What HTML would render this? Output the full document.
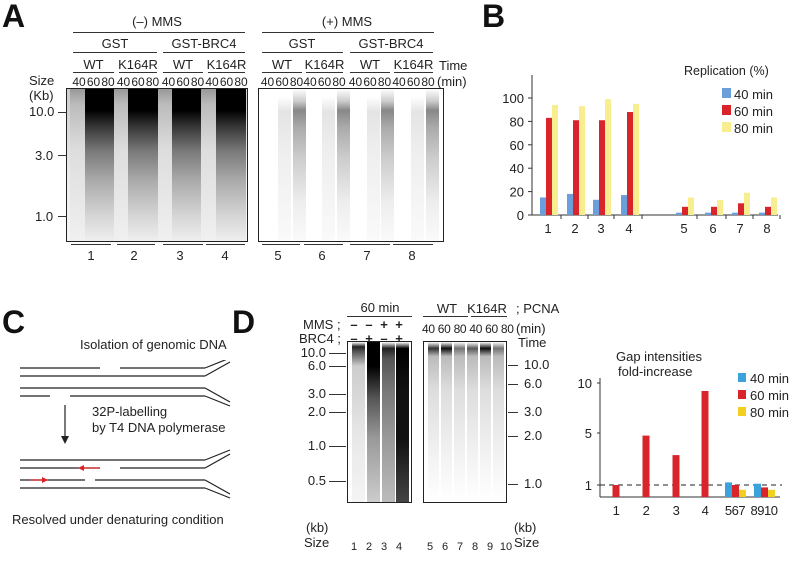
<!DOCTYPE html>
<html><head><meta charset="utf-8"><style>
body{margin:0;width:800px;height:565px;background:#fff;position:relative;overflow:hidden;font-family:"Liberation Sans",Arial,sans-serif;color:#222}
.a{position:absolute;white-space:nowrap}
.t{font-size:13px}
.big{font-size:32px;font-weight:bold;color:#111}
.hl{position:absolute;height:1px;background:#333}
.gel{position:absolute;border:1.5px solid #222;background:#fff;overflow:hidden}
.lane{position:absolute;top:0;bottom:0}
.c{text-align:center;transform:translateX(-50%)}
</style></head><body>
<div class="a big" style="left:2px;top:-2px">A</div>
<div class="a big" style="left:482px;top:-2px">B</div>
<div class="a big" style="left:2px;top:304px">C</div>
<div class="a big" style="left:232px;top:304px">D</div>

<div class="a t c" style="left:157px;top:14px">(–) MMS</div>
<div class="hl" style="left:73px;top:32px;width:172px"></div>
<div class="a t c" style="left:347px;top:14px">(+) MMS</div>
<div class="hl" style="left:262px;top:32px;width:172px"></div>
<div class="a t c" style="left:115px;top:36px">GST</div>
<div class="a t c" style="left:204px;top:36px">GST-BRC4</div>
<div class="a t c" style="left:302px;top:36px">GST</div>
<div class="a t c" style="left:391px;top:36px">GST-BRC4</div>
<div class="hl" style="left:73px;top:52px;width:84px"></div><div class="hl" style="left:163px;top:52px;width:82px"></div>
<div class="hl" style="left:262px;top:52px;width:81px"></div><div class="hl" style="left:350px;top:52px;width:83px"></div>
<div id="aRow"></div>
<div class="a t" style="left:29px;top:73px">Size</div>
<div class="a t" style="left:29px;top:88px">(Kb)</div>
<div class="a t" style="left:439px;top:58px">Time</div>
<div class="a t" style="left:437px;top:74px">(min)</div>
<div class="a t" style="left:29px;top:104px">10.0</div>
<div class="a t" style="left:35px;top:148px">3.0</div>
<div class="a t" style="left:35px;top:209px">1.0</div>
<div class="hl" style="left:58px;top:112px;width:8px"></div><div class="hl" style="left:58px;top:155px;width:8px"></div><div class="hl" style="left:58px;top:216px;width:8px"></div>
<div class="gel" id="gelA1" style="left:66px;top:88px;width:180px;height:152px;background:linear-gradient(#ccc,#eee 60%,#f6f6f6)"></div>
<div class="gel" id="gelA2" style="left:258px;top:88px;width:184px;height:152px"></div>
<div id="aNums"></div>

<svg id="chartB" class="a" style="left:480px;top:50px" width="320" height="190"></svg>

<div class="a t" style="left:80px;top:337px">Isolation of genomic DNA</div>
<svg class="a" style="left:0;top:360px" width="240" height="150">
<g stroke="#222" stroke-width="1.2" fill="none">
<line x1="20" y1="8" x2="100" y2="8"/><line x1="120" y1="8" x2="205" y2="8"/><path d="M205 8 L230 -2"/>
<line x1="20" y1="16" x2="205" y2="16"/><path d="M205 16 L230 2"/>
<line x1="20" y1="28" x2="205" y2="28"/><path d="M205 28 L230 42"/>
<line x1="20" y1="36" x2="50" y2="36"/><line x1="70" y1="36" x2="205" y2="36"/><path d="M205 36 L230 46"/>
<line x1="65" y1="45" x2="65" y2="80"/>
<line x1="20" y1="100" x2="205" y2="100"/><path d="M205 100 L230 90"/>
<line x1="20" y1="108" x2="100" y2="108"/><line x1="120" y1="108" x2="205" y2="108"/><path d="M205 108 L230 94"/>
<line x1="20" y1="120" x2="85" y2="120"/><line x1="95" y1="120" x2="205" y2="120"/><path d="M205 120 L230 134"/>
<line x1="20" y1="128" x2="205" y2="128"/><path d="M205 128 L230 138"/>
</g>
<path d="M61 76 L65 84 L69 76 Z" fill="#222"/>
<line x1="100" y1="108" x2="80" y2="108" stroke="#d22" stroke-width="1.3"/><path d="M78 108 L84 105 L84 111Z" fill="#d22"/>
<line x1="30" y1="120" x2="45" y2="120" stroke="#d22" stroke-width="1.3"/><path d="M48 120 L42 117 L42 123Z" fill="#d22"/>
</svg>
<div class="a t" style="left:92px;top:404px">32P-labelling</div>
<div class="a t" style="left:92px;top:420px">by T4 DNA polymerase</div>
<div class="a t" style="left:12px;top:512px">Resolved under denaturing condition</div>

<div class="a t c" style="left:380px;top:300px">60 min</div>
<div class="hl" style="left:347px;top:316px;width:65px"></div>
<div class="a t" style="left:303px;top:317px">MMS ;</div>
<div class="a t" style="left:299px;top:331px">BRC4 ;</div>
<div id="signs"></div>
<div class="a t c" style="left:447px;top:301px">WT</div>
<div class="a t c" style="left:487px;top:301px">K164R</div>
<div class="a t" style="left:516px;top:301px">; PCNA</div>
<div class="hl" style="left:423px;top:316px;width:45px"></div><div class="hl" style="left:471px;top:316px;width:36px"></div>
<div class="a" style="left:422px;top:322px;font-size:12px;letter-spacing:-0.3px">40 60 80 40 60 80</div>
<div class="a t" style="left:516px;top:321px">(min)</div>
<div class="a t" style="left:518px;top:335px">Time</div>
<div class="gel" id="gelD1" style="left:347px;top:341px;width:63px;height:160px"></div>
<div class="gel" id="gelD2" style="left:423px;top:341px;width:82px;height:160px"></div>
<div id="dTicks"></div>
<div class="a t" style="left:306px;top:520px">(kb)</div>
<div class="a t" style="left:304px;top:535px">Size</div>
<div class="a t" style="left:514px;top:520px">(kb)</div>
<div class="a t" style="left:514px;top:535px">Size</div>
<div id="dLanes"></div>

<div class="a t" style="left:616px;top:349px">Gap intensities</div>
<div class="a t" style="left:618px;top:364px">fold-increase</div>
<svg id="chartD" class="a" style="left:560px;top:370px" width="240" height="160"></svg>

<script>
const bCats = ['1','2','3','4','5','6','7','8'];
const b40 = [15,18,13,17,2,2,2,2];
const b60 = [83,81,81,88,7,7,10,7];
const b80 = [94,93,99,95,15,13,19,15];
const bTicks = [0,20,40,60,80,100];
const gCats = ['1','2','3','4','567','8910'];
const g40 = [null,null,null,null,1.2,1.1];
const g60 = [1.0,4.8,3.3,9.2,1.0,0.8];
const g80 = [null,null,null,null,0.6,0.6];
const gTicks = [1,5,10];

const NS='http://www.w3.org/2000/svg';
function mk(svg,tag,attrs,txt){const e=document.createElementNS(NS,tag);for(const k in attrs)e.setAttribute(k,attrs[k]);if(txt!=null)e.textContent=txt;svg.appendChild(e);return e;}

(function(){
  const s=document.getElementById('chartB');
  const x0=52,y0=165,yTop=25;
  const y=v=>y0-v*(117/100);
  const cx=[68,95,121,149,204,233,260,287];
  mk(s,'line',{x1:x0,y1:yTop,x2:x0,y2:y0,stroke:'#333'});
  mk(s,'line',{x1:x0,y1:y0,x2:298,y2:y0,stroke:'#333'});
  bTicks.forEach(t=>{mk(s,'line',{x1:x0-4,y1:y(t),x2:x0,y2:y(t),stroke:'#333'});
    const tx=mk(s,'text',{x:x0-8,y:y(t)+5,'text-anchor':'end','font-size':13,fill:'#222','font-family':'Liberation Sans'},t);
    });
  bCats.forEach((c,i)=>{
    const series=[[b40,'#6a9fdc'],[b60,'#d8242a'],[b80,'#f8ee90']];
    series.forEach(([arr,col],j)=>{
      const r=mk(s,'rect',{x:cx[i]-8+j*6,y:y(arr[i]),width:6,height:y0-y(arr[i]),fill:col});
      
      
    });
    mk(s,'line',{x1:cx[i]+13,y1:y0,x2:cx[i]+13,y2:y0+4,stroke:'#333'});
    const tx=mk(s,'text',{x:cx[i],y:y0+18,'text-anchor':'middle','font-size':13,fill:'#222','font-family':'Liberation Sans'},c);
    
  });
  const tt=mk(s,'text',{x:204,y:25,'font-size':12.5,fill:'#222','font-family':'Liberation Sans'},'Replication (%)');
  
  [['40 min','#6a9fdc'],['60 min','#d8242a'],['80 min','#f8ee90']].forEach(([l,c],i)=>{
    mk(s,'rect',{x:242,y:38+i*17,width:9,height:10,fill:c});
    const t=mk(s,'text',{x:254,y:49+i*17,'font-size':13,fill:'#222','font-family':'Liberation Sans'},l);
    
  });
})();

(function(){
  const s=document.getElementById('chartD');
  const x0=40,y0=127;
  const dom=[0,1,5,10],rng=[127,115,63,13];
  const y=v=>{for(let i=0;i<3;i++){if(v<=dom[i+1]||i==2){return rng[i]+(v-dom[i])/(dom[i+1]-dom[i])*(rng[i+1]-rng[i]);}}};
  mk(s,'line',{x1:x0,y1:8,x2:x0,y2:y0,stroke:'#333'});
  mk(s,'line',{x1:x0,y1:y0,x2:220,y2:y0,stroke:'#333'});
  gTicks.forEach(t=>{mk(s,'line',{x1:x0-3,y1:y(t),x2:x0,y2:y(t),stroke:'#333'});
    const tx=mk(s,'text',{x:x0-8,y:y(t)+5,'text-anchor':'end','font-size':13,fill:'#222','font-family':'Liberation Sans'},t);
    });
  mk(s,'line',{x1:x0,y1:y(1),x2:222,y2:y(1),stroke:'#222','stroke-dasharray':'5,4'});
  const cx=[56,86,116,145,175,204];
  gCats.forEach((c,i)=>{
    const ser=[[g40,'#3aa3dc'],[g60,'#d8242a'],[g80,'#f3cf22']];
    const multi=g40[i]!=null;
    ser.forEach(([arr,col],j)=>{
      if(arr[i]==null)return;
      const bx=multi?cx[i]-10+j*7:cx[i]-3.5;
      const r=mk(s,'rect',{x:bx,y:y(arr[i]),width:7,height:y0-y(arr[i]),fill:col});
      
      
    });
    const tx=mk(s,'text',{x:cx[i],y:y0+18,'text-anchor':'middle','font-size':13,fill:'#222','font-family':'Liberation Sans','letter-spacing':'-0.5'},c);
    
  });
  [['40 min','#3aa3dc'],['60 min','#d8242a'],['80 min','#f3cf22']].forEach(([l,c],i)=>{
    mk(s,'rect',{x:178,y:3+i*17,width:8,height:9,fill:c});
    const t=mk(s,'text',{x:190,y:13+i*17,'font-size':13,fill:'#222','font-family':'Liberation Sans'},l);
    
  });
})();

(function(){
  const row=document.getElementById('aRow');
  const groups=[[73,114,'WT'],[119,157,'K164R'],[163,203,'WT'],[208,245,'K164R'],[262,302,'WT'],[306,343,'K164R'],[350,390,'WT'],[394,433,'K164R']];
  groups.forEach(g=>{
    const d=document.createElement('div');d.className='a t c';d.style.left=((g[0]+g[1])/2)+'px';d.style.top='57px';d.textContent=g[2];
    
    
    row.appendChild(d);
    const l=document.createElement('div');l.className='hl';l.style.left=g[0]+'px';l.style.top='72px';l.style.width=(g[1]-g[0])+'px';row.appendChild(l);
    const mid=(g[0]+g[1])/2;
    ['40','60','80'].forEach((n,k)=>{
      const e=document.createElement('div');e.className='a c';e.style.left=(mid+(k-1)*14.5)+'px';e.style.top='75px';e.style.fontSize='12px';e.textContent=n;
      
      
      row.appendChild(e);
    });
  });
  const nums=document.getElementById('aNums');
  [[91,71,111],[134,117,155],[180,163,203],[225,206,245],[278,262,300],[322,304,343],[367,350,390],[412,393,433]].forEach((n,i)=>{
    const l=document.createElement('div');l.className='hl';l.style.left=n[1]+'px';l.style.top='244px';l.style.width=(n[2]-n[1])+'px';nums.appendChild(l);
    const d=document.createElement('div');d.className='a t c';d.style.left=n[0]+'px';d.style.top='248px';d.textContent=i+1;
    
    
    nums.appendChild(d);
  });
  function lanes(id,xs,w,fn){const g=document.getElementById(id);xs.forEach((x,i)=>{const d=document.createElement('div');d.className='lane';d.style.left=x+'px';d.style.width=w+'px';d.style.background=fn(i);g.appendChild(d);});}
  const a1=[];for(let i=0;i<12;i++)a1.push(3+i*14.6);
  lanes('gelA1',a1,15,i=>{const k=i%3;if(k==0)return 'linear-gradient(#999 0%,#bbb 10%,#ddd 40%,#f0f0f0 100%)';return 'linear-gradient(#000 0%,#000 14%,#333 24%,#777 40%,#aaa 60%,#d8d8d8 85%,#eee 100%)';});
  const a2=[];for(let i=0;i<12;i++)a2.push(4+i*14.8);
  lanes('gelA2',a2,13,i=>{const k=i%3;if(k==2)return 'linear-gradient(#fff 0%,#ccc 8%,#888 14%,#aaa 25%,#ccc 45%,#eee 75%,#fafafa 100%)';if(k==1)return 'linear-gradient(#fff 5%,#e4e4e4 15%,#eee 40%,#fafafa 100%)';return '#fff';});
  lanes('gelD1',[4,19,34,48],13,i=>['linear-gradient(#fff 0%,#222 3%,#555 6%,#ccc 15%,#e8e8e8 60%,#f4f4f4 100%)','linear-gradient(#000 0%,#000 15%,#555 35%,#999 60%,#ccc 100%)','linear-gradient(#fff 0%,#222 4%,#555 10%,#777 30%,#999 60%,#bbb 100%)','linear-gradient(#fff 0%,#000 4%,#111 30%,#111 60%,#444 100%)'][i]);
  lanes('gelD2',[4,17,30,43,56,69],11,i=>{const dark=[0.2,0.05,0.45,0.35,0.05,0.45][i];const c=Math.round(dark*255);return `linear-gradient(#fff 0%,rgb(${c},${c},${c}) 4%,#bbb 9%,#ddd 30%,#f2f2f2 70%,#fff 100%)`;});
  const dt=document.getElementById('dTicks');
  [[353,'10.0'],[366,'6.0'],[394,'3.0'],[412,'2.0'],[446,'1.0'],[481,'0.5']].forEach(t=>{
    const d=document.createElement('div');d.className='a t';d.style.right=(800-326)+'px';d.style.top=(t[0]-8)+'px';d.textContent=t[1];
    
    
    dt.appendChild(d);
    const l=document.createElement('div');l.className='hl';l.style.left='329px';l.style.top=t[0]+'px';l.style.width='17px';dt.appendChild(l);
  });
  [[365,'10.0'],[384,'6.0'],[412,'3.0'],[436,'2.0'],[484,'1.0']].forEach(t=>{
    const d=document.createElement('div');d.className='a t';d.style.left='524px';d.style.top=(t[0]-8)+'px';d.textContent=t[1];
    
    
    dt.appendChild(d);
    const l=document.createElement('div');l.className='hl';l.style.left='508px';l.style.top=t[0]+'px';l.style.width='10px';dt.appendChild(l);
  });
  const sg=document.getElementById('signs');
  [['–','–','+','+'],['–','+','–','+']].forEach((r,ri)=>r.forEach((sym,k)=>{
    const e=document.createElement('div');e.className='a t c';e.style.left=(354+k*15)+'px';e.style.top=(317+ri*14)+'px';e.style.fontWeight='bold';e.textContent=sym;
    
    
    sg.appendChild(e);
  }));
  const dl=document.getElementById('dLanes');
  [354,369,384,399,430,445,460,475,490,506].forEach((x,i)=>{
    const e=document.createElement('div');e.className='a c';e.style.left=x+'px';e.style.top='541px';e.style.fontSize='11px';e.textContent=i+1;
    
    
    dl.appendChild(e);
  });
})();
</script>
</body></html>
